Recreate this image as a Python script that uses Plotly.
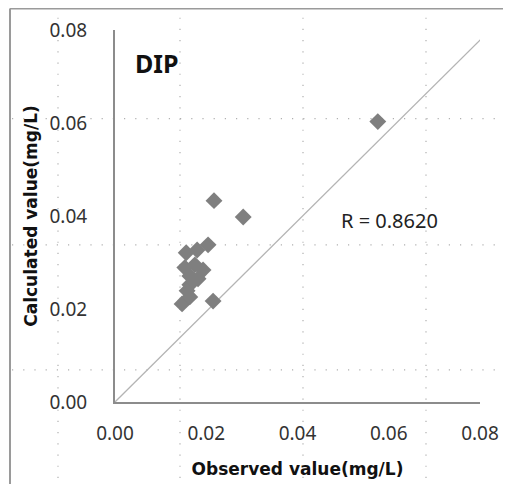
import plotly.graph_objects as go

# Observed vs calculated DIP (mg/L)
observed = [0.0576, 0.0217, 0.0281, 0.0156, 0.0180, 0.0204, 0.0153, 0.0175,
            0.0164, 0.0193, 0.0182, 0.0164, 0.0158, 0.0147, 0.0164, 0.0215]
calculated = [0.0603, 0.0433, 0.0398, 0.0321, 0.0327, 0.0338, 0.0289, 0.0295,
              0.0271, 0.0284, 0.0265, 0.0252, 0.0239, 0.0211, 0.0226, 0.0217]

line_x = [0.0, 0.0807]
line_y = [0.0, 0.0785]

tick_vals = [0.00, 0.02, 0.04, 0.06, 0.08]
tick_text = ["0.00", "0.02", "0.04", "0.06", "0.08"]

fig = go.Figure()
fig.add_trace(go.Scatter(x=line_x, y=line_y, mode="lines",
                         line=dict(color="#b4b4b4", width=1.3),
                         showlegend=False, hoverinfo="skip", cliponaxis=False))
fig.add_trace(go.Scatter(x=observed, y=calculated, mode="markers",
                         marker=dict(symbol="diamond", size=13, color="#7f7f7f",
                                     line=dict(width=0)),
                         showlegend=False))

# background dotted page grid and frame (decoration in paper coords)
dot = dict(color="#b0b0b0", width=1.2, dash="1.2px,10px")
shapes = []
for px in [58, 180, 303, 426]:
    xp = (px - 115) / 365
    shapes.append(dict(type="line", xref="paper", yref="paper",
                       x0=xp, x1=xp, y0=(402 - 7) / 371.5, y1=(402 - 490) / 371.5,
                       line=dot, layer="below"))
for py in [119, 245, 370]:
    yp = (402 - py) / 371.5
    shapes.append(dict(type="line", xref="paper", yref="paper",
                       x0=(12 - 115) / 365, x1=(515 - 115) / 365, y0=yp, y1=yp,
                       line=dot, layer="below"))
frame = dict(color="#9a9a9a", width=2)
shapes.append(dict(type="line", xref="paper", yref="paper",
                   x0=(10 - 115) / 365, x1=(10 - 115) / 365,
                   y0=(402 - 9) / 371.5, y1=(402 - 490) / 371.5, line=frame))
shapes.append(dict(type="line", xref="paper", yref="paper",
                   x0=(10 - 115) / 365, x1=(515 - 115) / 365,
                   y0=(402 - 9) / 371.5, y1=(402 - 9) / 371.5, line=frame))

fig.update_layout(
    width=503, height=476,
    margin=dict(l=107, r=31, t=22, b=82),
    paper_bgcolor="white", plot_bgcolor="white",
    font=dict(family="Noto Sans", size=16, color="#222"),
    shapes=shapes,
    xaxis=dict(range=[0, 0.08], tickvals=tick_vals, ticktext=tick_text,
               showgrid=False, zeroline=False, showline=True,
               linecolor="#8c8c8c", linewidth=2, ticks="",
               ticklabelstandoff=13, automargin=False,
               tickfont=dict(size=19, color="#333"),
               title=dict(text="<b>Observed value(mg/L)</b>", standoff=18,
                          font=dict(family="DejaVu Sans", size=17, color="#111"))),
    yaxis=dict(range=[0, 0.08], tickvals=tick_vals, ticktext=tick_text,
               showgrid=False, zeroline=False, showline=True,
               linecolor="#8c8c8c", linewidth=2, ticks="",
               ticklabelstandoff=22, automargin=False,
               tickfont=dict(size=19, color="#333"),
               title=dict(text="<b>Calculated value(mg/L)</b>", standoff=8,
                          font=dict(family="DejaVu Sans", size=17, color="#111"))),
    annotations=[
        dict(text="<b>DIP</b>", x=0.115, y=0.91, xref="paper", yref="paper",
             xanchor="center", yanchor="middle", showarrow=False,
             font=dict(size=25, color="#111")),
        dict(text="R = 0.8620", x=0.753, y=0.487, xref="paper", yref="paper",
             xanchor="center", yanchor="middle", showarrow=False,
             font=dict(size=20, color="#222")),
    ],
)

fig.write_html("out.html")
